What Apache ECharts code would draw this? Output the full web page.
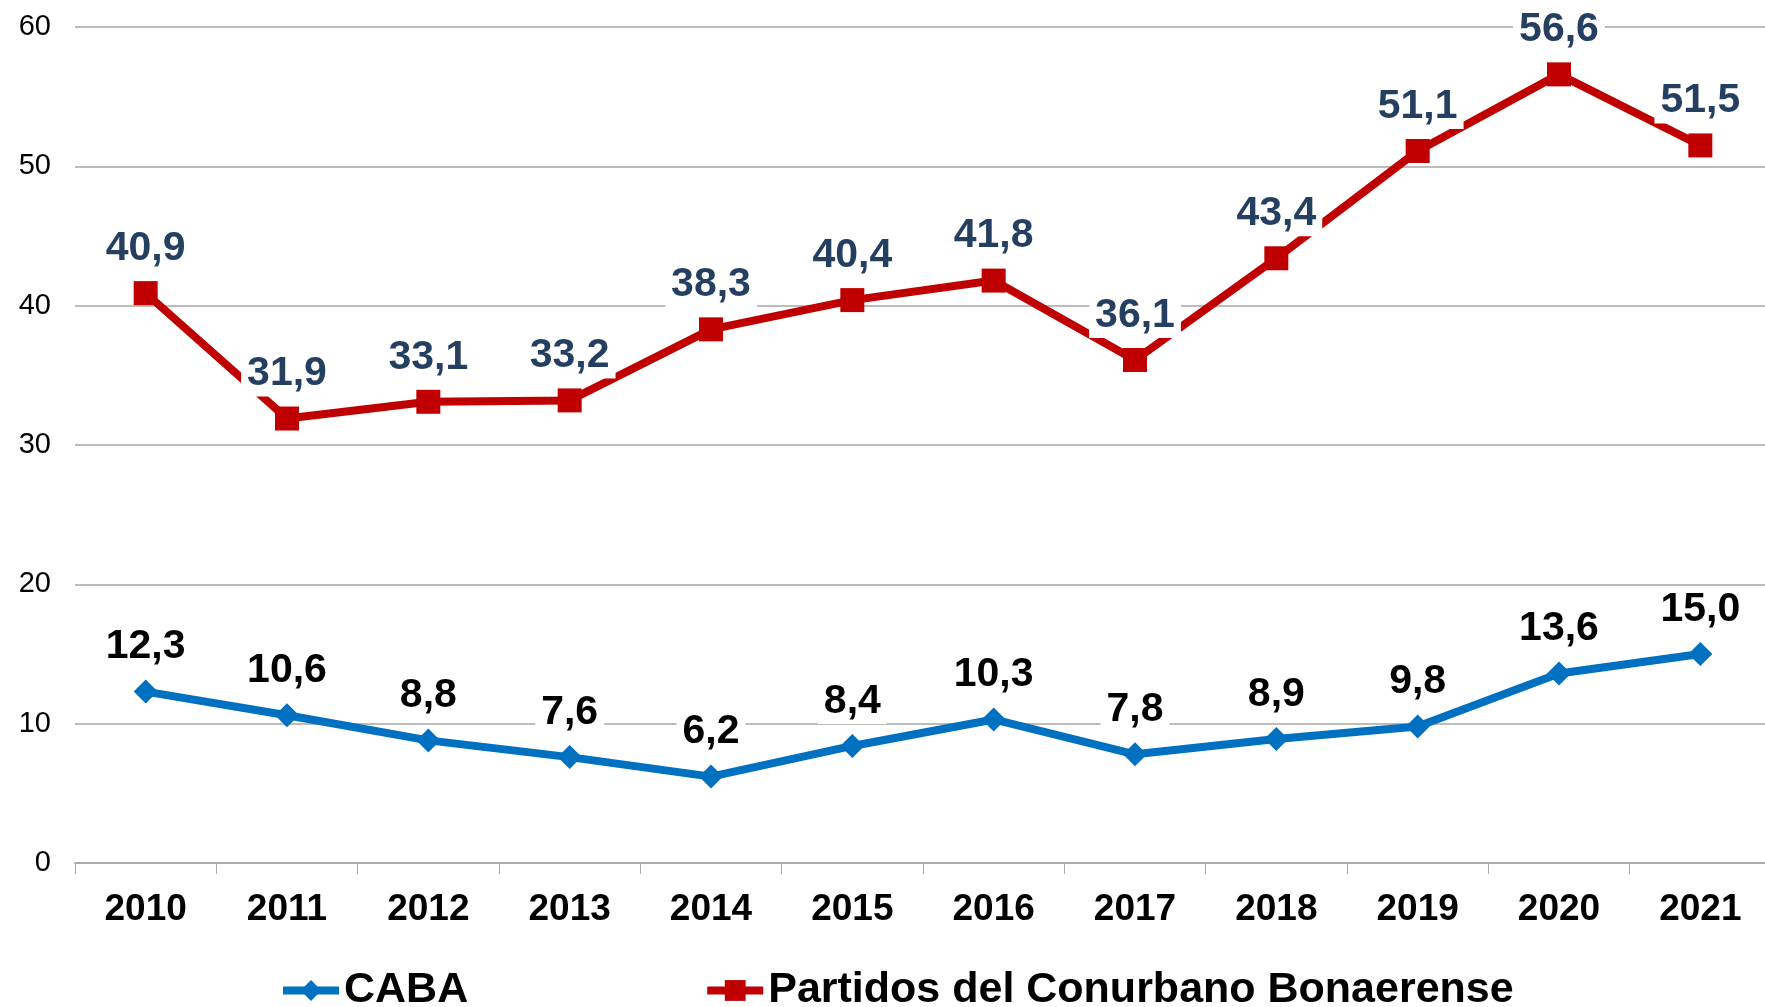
<!DOCTYPE html>
<html>
<head>
<meta charset="utf-8">
<script src="https://cdn.jsdelivr.net/npm/echarts@6/dist/echarts.min.js"></script>
<style>
  html, body { margin: 0; padding: 0; background: #fff; }
  #chart-container { width: 1765px; height: 1007px; }
</style>
</head>
<body>
<div id="chart-container"></div>
<script>
var years = ["2010", "2011", "2012", "2013", "2014", "2015", "2016", "2017", "2018", "2019", "2020", "2021"];
var caba = [12.3, 10.6, 8.8, 7.6, 6.2, 8.4, 10.3, 7.8, 8.9, 9.8, 13.6, 15.0];
var partidos = [40.9, 31.9, 33.1, 33.2, 38.3, 40.4, 41.8, 36.1, 43.4, 51.1, 56.6, 51.5];
var yTicks = [0, 10, 20, 30, 40, 50, 60];

var dom = document.getElementById("chart-container");
var myChart = echarts.init(dom, null, { renderer: "canvas" });

function fmt(p) {
  return p.value.toFixed(1).replace(".", ",");
}

var option = {
  backgroundColor: "#fff",
  animation: false,
  grid: { left: 75, width: 1696, top: 27, bottom: 144, outerBoundsMode: "none" },
  legend: {
    left: 274,
    top: 964,
    itemGap: 235,
    itemWidth: 56,
    itemHeight: 26,
    lineStyle: { width: 8 },
    textStyle: {
      fontFamily: "Liberation Sans",
      fontWeight: "bold",
      fontSize: 43,
      color: "#000",
    },
    data: ["CABA", "Partidos del Conurbano Bonaerense"],
  },
  xAxis: {
    type: "category",
    data: years,
    boundaryGap: true,
    axisLine: { lineStyle: { color: "#aaa", width: 2 } },
    axisTick: { show: true, length: 11, lineStyle: { color: "#aaa", width: 1 } },
    axisLabel: {
      margin: 28,
      fontFamily: "Liberation Sans",
      fontWeight: "bold",
      fontSize: 37,
      color: "#000",
    },
  },
  yAxis: {
    type: "value",
    min: yTicks[0],
    max: yTicks[yTicks.length - 1],
    interval: 10,
    axisLine: { show: false },
    axisTick: { show: false },
    axisLabel: {
      margin: 24,
      fontFamily: "Liberation Sans",
      fontSize: 29,
      color: "#000",
    },
    splitLine: { lineStyle: { color: "#a6a6a6", width: 1.5 } },
  },
  series: [
    {
      name: "CABA",
      type: "line",
      data: caba,
      symbol: "diamond",
      symbolSize: 24,
      color: "#0070C0",
      lineStyle: { width: 8, color: "#0070C0" },
      itemStyle: { color: "#0070C0" },
      label: {
        show: true,
        position: "top",
        distance: 10,
        formatter: fmt,
        fontFamily: "Liberation Sans",
        fontWeight: "bold",
        fontSize: 41,
        color: "#000",
        backgroundColor: "#fff",
        padding: [2, 6],
      },
      z: 3,
    },
    {
      name: "Partidos del Conurbano Bonaerense",
      type: "line",
      data: partidos,
      symbol: "rect",
      symbolSize: 24,
      color: "#C00000",
      lineStyle: { width: 8, color: "#C00000" },
      itemStyle: { color: "#C00000" },
      label: {
        show: true,
        position: "top",
        distance: 10,
        formatter: fmt,
        fontFamily: "Liberation Sans",
        fontWeight: "bold",
        fontSize: 41,
        color: "#243F60",
        backgroundColor: "#fff",
        padding: [2, 6],
      },
      z: 3,
    },
  ],
};

myChart.setOption(option);
window.addEventListener("resize", myChart.resize);
</script>
</body>
</html>
